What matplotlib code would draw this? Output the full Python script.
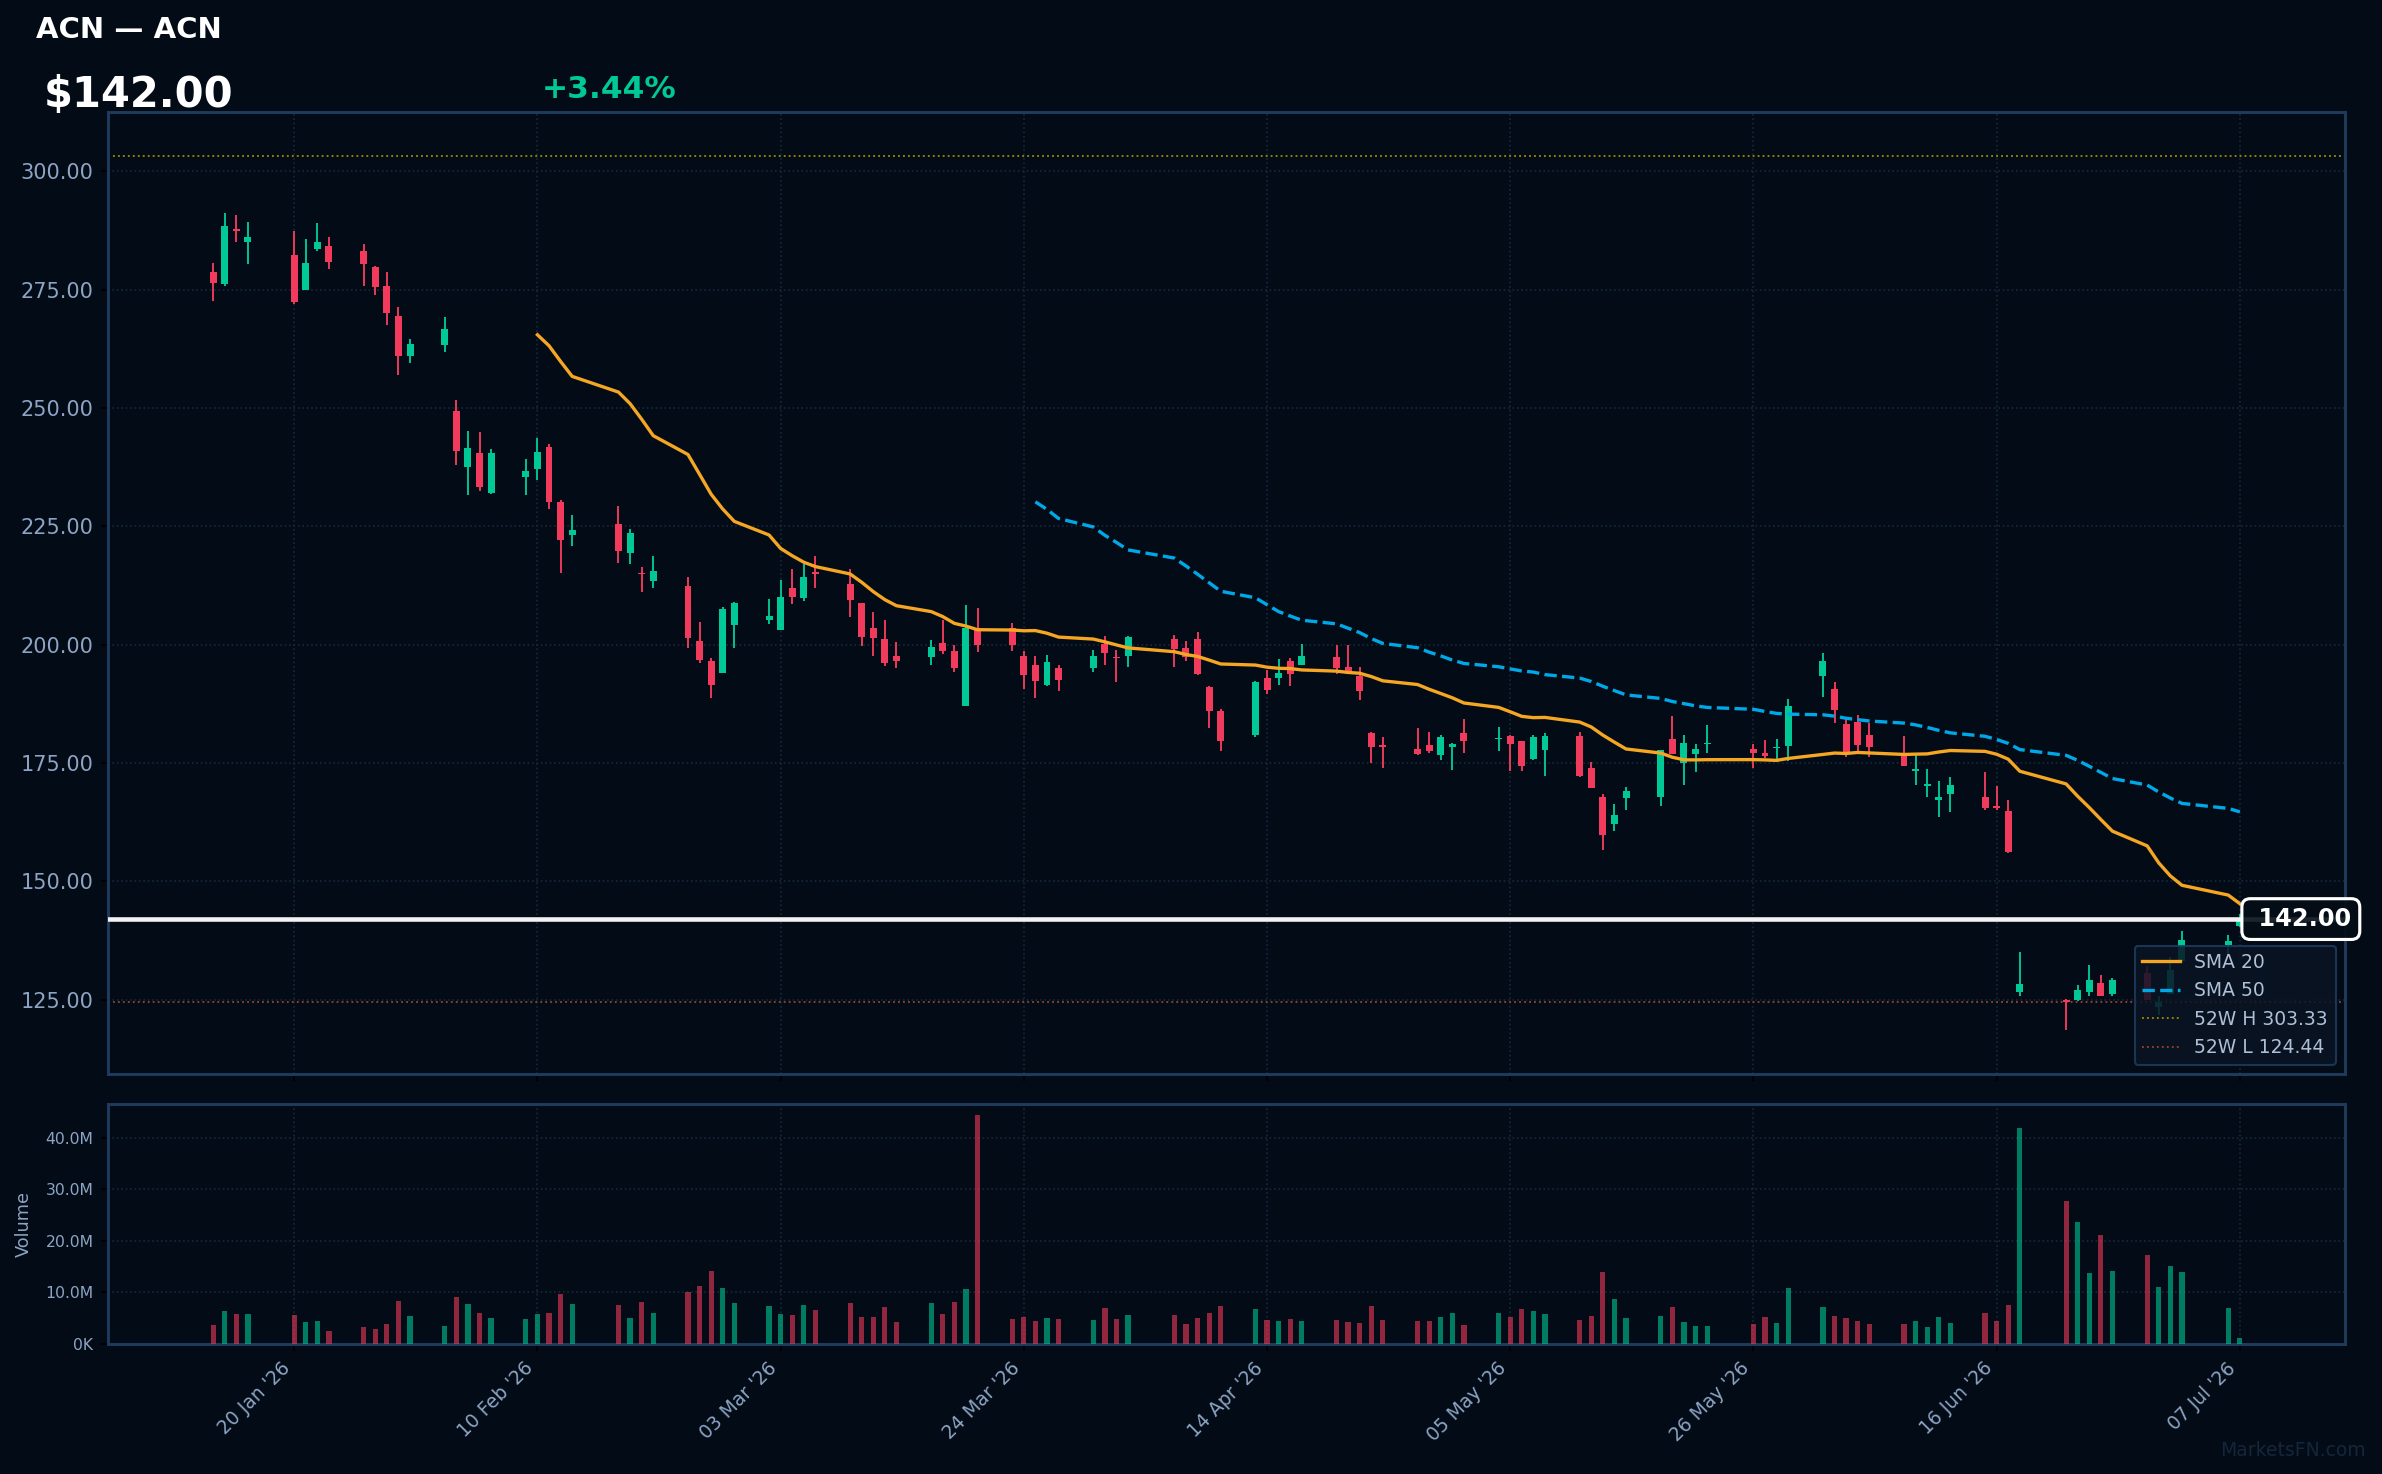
import matplotlib
matplotlib.use("Agg")
import matplotlib.pyplot as plt
import matplotlib.dates as mdates
from matplotlib.ticker import FuncFormatter, FixedLocator
import pandas as pd
import numpy as np

# ---------------- data ----------------
dates = [
    "2026-01-13", "2026-01-14", "2026-01-15", "2026-01-16", "2026-01-20", "2026-01-21", "2026-01-22",
    "2026-01-23", "2026-01-26", "2026-01-27", "2026-01-28", "2026-01-29", "2026-01-30",
    "2026-02-02", "2026-02-03", "2026-02-04", "2026-02-05", "2026-02-06", "2026-02-09", "2026-02-10",
    "2026-02-11", "2026-02-12", "2026-02-13", "2026-02-17", "2026-02-18", "2026-02-19", "2026-02-20",
    "2026-02-23", "2026-02-24", "2026-02-25", "2026-02-26", "2026-02-27",
    "2026-03-02", "2026-03-03", "2026-03-04", "2026-03-05", "2026-03-06", "2026-03-09", "2026-03-10",
    "2026-03-11", "2026-03-12", "2026-03-13", "2026-03-16", "2026-03-17", "2026-03-18", "2026-03-19",
    "2026-03-20", "2026-03-23", "2026-03-24", "2026-03-25", "2026-03-26", "2026-03-27", "2026-03-30",
    "2026-03-31",
    "2026-04-01", "2026-04-02", "2026-04-06", "2026-04-07", "2026-04-08", "2026-04-09", "2026-04-10",
    "2026-04-13", "2026-04-14", "2026-04-15", "2026-04-16", "2026-04-17", "2026-04-20", "2026-04-21",
    "2026-04-22", "2026-04-23", "2026-04-24", "2026-04-27", "2026-04-28", "2026-04-29", "2026-04-30",
    "2026-05-01", "2026-05-04", "2026-05-05", "2026-05-06", "2026-05-07", "2026-05-08", "2026-05-11",
    "2026-05-12", "2026-05-13", "2026-05-14", "2026-05-15", "2026-05-18", "2026-05-19", "2026-05-20",
    "2026-05-21", "2026-05-22", "2026-05-26", "2026-05-27", "2026-05-28", "2026-05-29",
    "2026-06-01", "2026-06-02", "2026-06-03", "2026-06-04", "2026-06-05", "2026-06-08", "2026-06-09",
    "2026-06-10", "2026-06-11", "2026-06-12", "2026-06-15", "2026-06-16", "2026-06-17", "2026-06-18",
    "2026-06-22", "2026-06-23", "2026-06-24", "2026-06-25", "2026-06-26", "2026-06-29", "2026-06-30",
    "2026-07-01", "2026-07-02", "2026-07-06", "2026-07-07",
]

opens = [
    278.8, 276.3, 287.9, 285.1, 282.4, 274.9, 283.7, 284.3, 283.2, 279.9, 275.8, 269.5, 261.1,
    263.4, 249.4, 237.6, 240.6, 232.1, 235.5, 237.2, 241.8, 230.2, 223.1, 225.6, 219.3, 215.2, 213.4,
    212.3, 200.7, 196.5, 194.0, 204.1,
    205.2, 203.1, 211.9, 209.8, 215.3, 212.9, 208.7, 203.6, 201.1, 197.5, 197.4, 200.4, 198.7, 187.1,
    203.5, 203.6, 197.7, 195.6, 191.5, 195.1, 195.1, 200.1,
    197.3, 197.5, 201.1, 199.2, 201.1, 191.0, 185.9, 180.9, 192.9, 192.9, 196.5, 195.8, 197.4, 195.2,
    193.4, 181.3, 178.7, 178.0, 178.7, 176.6, 178.3,
    181.4, 180.1, 180.6, 179.6, 175.9, 177.8, 180.6, 174.0, 167.7, 162.0, 167.5, 167.7, 180.1, 175.0,
    176.8, 179.0, 178.0, 177.2, 178.2, 178.5,
    193.3, 190.7, 183.3, 183.7, 181.0, 177.0, 173.4, 170.1, 167.1, 168.4, 167.7, 165.8, 164.9, 126.6,
    124.9, 124.9, 126.5, 128.5, 126.2, 130.6, 123.4,
    126.1, 133.1, 136.6, 140.6,
]
highs = [
    280.6, 291.3, 290.8, 289.4, 287.5, 285.8, 289.2, 286.2, 284.7, 280.1, 278.8, 271.4, 264.6,
    269.3, 251.8, 245.2, 245.0, 241.4, 239.3, 243.7, 242.5, 230.5, 227.5, 229.4, 224.5, 216.5, 218.8,
    214.4, 204.7, 197.1, 207.9, 209.1,
    209.6, 213.6, 215.9, 217.0, 218.8, 215.9, 208.9, 207.0, 205.3, 200.6, 200.9, 205.3, 200.0, 208.3,
    207.7, 204.6, 198.7, 197.5, 197.9, 195.8, 198.9, 201.8,
    198.8, 201.8, 202.0, 200.7, 202.6, 191.2, 186.3, 192.4, 194.6, 196.9, 197.1, 200.1, 199.9, 199.9,
    195.2, 181.6, 180.4, 182.3, 181.6, 180.8, 179.3,
    184.2, 182.7, 180.8, 179.7, 181.0, 181.4, 181.6, 175.3, 168.5, 166.4, 170.0, 177.8, 185.0, 180.8,
    178.9, 183.1, 178.9, 179.9, 180.1, 188.6,
    198.3, 192.2, 184.2, 185.2, 183.5, 180.6, 176.8, 173.8, 171.1, 172.1, 173.0, 170.2, 167.2, 135.1,
    125.2, 128.1, 132.2, 130.2, 129.6, 132.0, 125.7,
    134.0, 139.4, 138.6, 143.1,
]
lows = [
    272.7, 275.8, 285.0, 280.5, 272.0, 274.9, 283.1, 279.4, 275.8, 273.9, 267.6, 257.0, 259.6,
    261.9, 238.0, 231.7, 232.5, 231.9, 231.7, 234.9, 228.7, 215.1, 220.8, 217.2, 217.0, 211.1, 212.0,
    199.2, 196.1, 188.7, 194.0, 199.3,
    204.4, 203.1, 208.6, 209.2, 212.0, 205.8, 199.7, 197.6, 195.5, 195.1, 195.7, 198.0, 194.2, 187.1,
    198.5, 198.7, 190.6, 188.7, 191.3, 190.2, 194.2, 195.8,
    192.1, 195.3, 195.3, 196.5, 193.5, 182.3, 177.5, 180.4, 189.5, 191.4, 191.2, 195.8, 193.9, 193.7,
    188.3, 174.9, 173.9, 176.6, 177.0, 175.6, 173.6,
    177.0, 177.6, 173.4, 173.4, 175.6, 172.3, 172.1, 169.6, 156.7, 160.6, 165.0, 165.8, 176.8, 170.3,
    173.0, 177.0, 173.9, 176.0, 175.9, 175.4,
    188.9, 183.4, 176.3, 177.2, 176.2, 174.3, 170.3, 167.7, 163.5, 164.6, 165.0, 165.0, 155.9, 125.7,
    118.5, 124.6, 125.8, 125.7, 125.7, 124.9, 121.8,
    126.1, 133.1, 134.5, 140.3,
]
closes = [
    276.5, 288.5, 287.5, 286.2, 272.5, 280.7, 285.1, 280.9, 280.5, 275.6, 270.1, 261.1, 263.6,
    266.8, 241.0, 241.6, 233.4, 240.6, 236.8, 240.8, 230.2, 222.1, 224.3, 219.8, 223.7, 214.9, 215.5,
    201.3, 196.8, 191.5, 207.5, 208.9,
    206.0, 210.0, 210.1, 214.2, 215.0, 209.4, 201.6, 201.4, 196.1, 196.6, 199.4, 198.7, 195.1, 203.5,
    200.0, 200.0, 193.6, 192.3, 196.4, 192.5, 197.7, 198.2,
    197.1, 201.6, 199.0, 197.4, 193.7, 185.9, 179.6, 192.0, 190.4, 194.1, 193.9, 197.7, 195.0, 194.4,
    190.2, 178.3, 178.4, 176.8, 177.6, 180.4, 178.9,
    179.7, 180.3, 178.9, 174.4, 180.4, 180.6, 172.3, 169.6, 159.7, 164.1, 169.0, 177.7, 176.8, 179.3,
    178.0, 179.3, 177.0, 176.4, 178.4, 187.1,
    196.6, 186.1, 177.2, 178.7, 178.3, 174.3, 173.6, 170.6, 167.7, 170.4, 165.4, 165.5, 156.1, 128.2,
    124.44, 127.1, 129.2, 125.8, 129.2, 125.0, 124.5,
    131.3, 137.5, 137.28, 142.0,
]
volumes_m = [
    3.6, 6.3, 5.75, 5.75, 5.55, 4.2, 4.4, 2.45, 3.2, 2.85, 3.8, 8.3, 5.35,
    3.4, 9.05, 7.7, 6.1, 5.0, 4.8, 5.75, 6.1, 9.6, 7.7, 7.5, 5.0, 8.1, 5.95, 10.0, 11.2, 14.1, 10.8, 7.9,
    7.3, 5.75, 5.55, 7.5, 6.5, 7.9, 5.2, 5.2, 7.1, 4.2, 7.9, 5.75, 8.1, 10.6, 44.3, 4.8, 5.2, 4.4, 5.0,
    4.8, 4.6, 6.9,
    4.8, 5.55, 5.55, 3.8, 5.0, 6.1, 7.3, 6.7, 4.6, 4.4, 4.8, 4.4, 4.6, 4.2, 4.0, 7.3, 4.6, 4.4, 4.4,
    5.2, 5.95,
    3.6, 6.1, 5.2, 6.7, 6.3, 5.75, 4.6, 5.35, 13.9, 8.65, 5.0, 5.35, 7.1, 4.2, 3.4, 3.4, 3.8, 5.2,
    4.0, 10.8,
    7.1, 5.35, 5.0, 4.4, 3.8, 3.8, 4.4, 3.2, 5.2, 4.0, 5.95, 4.4, 7.5, 41.8, 27.7, 23.6, 13.7, 21.1,
    14.1, 17.2, 11.0,
    15.1, 13.9, 6.9, 1.1,
]

tick_dates = ["2026-01-20", "2026-02-10", "2026-03-03", "2026-03-24", "2026-04-14",
              "2026-05-05", "2026-05-26", "2026-06-16", "2026-07-07"]
price_ticks = [125, 150, 175, 200, 225, 250, 275, 300]
volume_ticks_m = [0, 10, 20, 30, 40]

ticker = "ACN"
last_price = 142.00
change_pct = 3.44
high_52w = 303.33
low_52w = 124.44

# ---------------- style ----------------
BG = "#020b16"
UP = "#00c896"
DN = "#f23b5c"
SPINE = "#1f3c5e"
GRID = "#16283d"
TXT = "#8da4c4"

W, H = 2382, 1474
fig = plt.figure(figsize=(W / 150, H / 150), dpi=150, facecolor=BG)
ax = fig.add_axes([108 / W, 1 - 1074 / H, (2345 - 108) / W, (1074 - 112) / H], facecolor=BG)
axv = fig.add_axes([108 / W, 1 - 1344 / H, (2345 - 108) / W, (1344 - 1104) / H], facecolor=BG, sharex=ax)

x = mdates.date2num(pd.to_datetime(dates))
o = np.array(opens); h = np.array(highs); l = np.array(lows); c = np.array(closes)
v = np.array(volumes_m) * 1e6
up = c >= o
cols = np.where(up, UP, DN)

# candles
ax.vlines(x, l, h, colors=cols, linewidth=0.9, zorder=3)
body_h = np.maximum(np.abs(c - o), 0.25)
ax.bar(x, body_h, bottom=np.minimum(o, c), width=0.6, color=cols, linewidth=0, zorder=4)

# SMAs
s = pd.Series(c)
sma20 = s.rolling(20).mean()
sma50 = s.rolling(50).mean()
ax.plot(x, sma20, color="#f5a623", lw=1.6, label="SMA 20", zorder=5)
ax.plot(x, sma50, color="#00a8e8", lw=1.6, ls="--", label="SMA 50", zorder=5)

# 52w lines
ax.axhline(high_52w, color="#9a8600", lw=0.9, ls=":", label=f"52W H {high_52w:.2f}", zorder=2)
ax.axhline(low_52w, color="#94402c", lw=0.9, ls=":", label=f"52W L {low_52w:.2f}", zorder=2)

# current price line
ax.axhline(last_price, color="#f2f2f2", lw=2.2, zorder=6)
ax.annotate(f" {last_price:.2f}", xy=(x[-1], last_price), xytext=(5, 0), textcoords="offset points",
            ha="left", va="center", fontsize=11.5, fontweight="bold", color="white",
            zorder=12, annotation_clip=False,
            bbox=dict(boxstyle="round,pad=0.35", fc=(0.02, 0.05, 0.09, 0.9), ec="white", lw=1.5))

# limits
lo = l.min(); hi = max(h.max(), high_52w)
pad = 0.05 * (hi - lo)
ax.set_ylim(lo - pad, hi + pad)
span = (x[-1] - x[0]) + 0.6
ax.set_xlim(x[0] - 0.3 - 0.05 * span, x[-1] + 0.3 + 0.05 * span)

# volume
axv.bar(x, v, width=0.45, color=cols, alpha=0.6, linewidth=0, zorder=3)
axv.set_ylim(0, v.max() * 1.05)

def vfmt(val, pos):
    if val >= 1e6:
        return f"{val / 1e6:.1f}M"
    return f"{val / 1e3:.0f}K"

axv.yaxis.set_major_locator(FixedLocator([t * 1e6 for t in volume_ticks_m]))
axv.yaxis.set_major_formatter(FuncFormatter(vfmt))
axv.set_ylabel("Volume", color=TXT, fontsize=8.5, labelpad=6)

ax.yaxis.set_major_locator(FixedLocator(price_ticks))
ax.yaxis.set_major_formatter(FuncFormatter(lambda val, pos: f"{val:.2f}"))

ax.xaxis.set_major_locator(FixedLocator(mdates.date2num(pd.to_datetime(tick_dates))))
ax.xaxis.set_major_formatter(mdates.DateFormatter("%d %b '%y"))

for a in (ax, axv):
    for sp in a.spines.values():
        sp.set_color(SPINE)
        sp.set_linewidth(1.4)
    a.grid(True, color=GRID, ls=":", lw=0.8, zorder=0)
    a.set_axisbelow(True)
    a.tick_params(colors="black", labelcolor=TXT)

ax.tick_params(axis="y", labelsize=10)
ax.tick_params(axis="x", labelbottom=False)
axv.tick_params(axis="y", labelsize=7.5)
axv.tick_params(axis="x", labelsize=9)
for lab in axv.get_xticklabels():
    lab.set_rotation(45)
    lab.set_ha("right")

leg = ax.legend(loc="lower right", fontsize=9, facecolor="#0a1424", edgecolor=SPINE,
                framealpha=0.85, labelcolor="#aebfd6")
leg.set_zorder(20)

# header texts
fig.text(36 / W, 1 - 37.5 / H, f"{ticker} \u2014 {ticker}", color="white", fontsize=14,
         fontweight="bold", va="baseline", ha="left")
fig.text(44 / W, 1 - 107 / H, f"${last_price:.2f}", color="white", fontsize=20,
         fontweight="bold", va="baseline", ha="left")
fig.text(542 / W, 1 - 98 / H, f"+{change_pct:.2f}%", color=UP, fontsize=15,
         fontweight="bold", va="baseline", ha="left")
fig.text(2366 / W, 1 - 1456 / H, "MarketsFN.com", color="#15263a", fontsize=9,
         va="baseline", ha="right")

fig.savefig("out.png", dpi=150, facecolor=BG)
